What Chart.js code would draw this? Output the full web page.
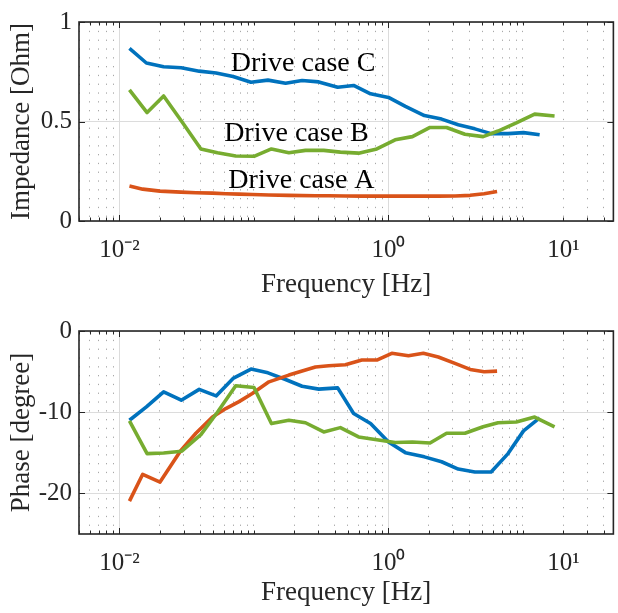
<!DOCTYPE html>
<html>
<head>
<meta charset="utf-8">
<script src="https://cdn.jsdelivr.net/npm/chart.js@4"></script>
<style>
  html, body { margin: 0; padding: 0; background: #fff; }
  #wrap { position: relative; width: 618px; height: 613px; }
  canvas { position: absolute; left: 0; }
  #top { top: 0; width: 618px; height: 305px; }
  #bot { top: 305px; width: 618px; height: 308px; }
</style>
</head>
<body>
<div id="wrap">
  <canvas id="top" width="618" height="305"></canvas>
  <canvas id="bot" width="618" height="308"></canvas>
</div>
<script>
// Drive case A (orange)
const freqA = [0.01186, 0.01488, 0.02002, 0.02864, 0.0370, 0.04911, 0.0617, 0.07743, 0.09714, 0.1292, 0.1816, 0.2864,
  0.3594, 0.4779, 0.6341, 0.8189, 1.058, 1.407, 1.816, 2.346, 3.120, 4.050, 5.141, 6.418];
const impA = [0.176, 0.160, 0.150, 0.145, 0.142, 0.140, 0.137, 0.135, 0.133, 0.131, 0.129, 0.127,
  0.127, 0.126, 0.125, 0.125, 0.125, 0.125, 0.125, 0.125, 0.126, 0.129, 0.137, 0.148];
const phaseA = [-20.95, -17.65, -18.6, -14.7, -12.6, -10.6, -9.55, -8.7, -7.7, -6.26, -5.43, -4.44,
  -4.28, -4.15, -3.58, -3.58, -2.75, -3.05, -2.75, -3.2, -3.99, -4.73, -5.02, -4.94];

// Drive case B (green)
const freqB = [0.01186, 0.01604, 0.02129, 0.02904, 0.04029, 0.05348, 0.07318, 0.1, 0.1348, 0.1816, 0.2415, 0.3300,
  0.4387, 0.5995, 0.8189, 1.121, 1.506, 2.036, 2.703, 3.700, 5.054, 6.528, 8.920, 12.21, 17.17];
const impB = [0.659, 0.545, 0.628, 0.50, 0.362, 0.343, 0.327, 0.325, 0.362, 0.343, 0.355, 0.355,
  0.346, 0.341, 0.362, 0.408, 0.424, 0.470, 0.470, 0.436, 0.424, 0.452, 0.493, 0.537, 0.528];
const phaseB = [-11.07, -15.1, -15.02, -14.8, -12.76, -10.0, -6.75, -6.95, -11.4, -10.99, -11.3, -12.43,
  -11.9, -13.05, -13.4, -13.74, -13.67, -13.8, -12.6, -12.6, -11.8, -11.3, -11.2, -10.6, -11.8];

// Drive case C (blue)
const freqC = [0.01186, 0.01585, 0.02129, 0.02879, 0.03914, 0.05229, 0.06989, 0.09501, 0.1270, 0.1717, 0.2279, 0.3030,
  0.4190, 0.5505, 0.7356, 1.0, 1.336, 1.848, 2.482, 3.300, 4.387, 5.794, 7.743, 10.09, 13.30];
const impC = [0.867, 0.794, 0.775, 0.770, 0.753, 0.744, 0.726, 0.697, 0.708, 0.692, 0.706, 0.699,
  0.672, 0.681, 0.639, 0.621, 0.576, 0.530, 0.512, 0.484, 0.463, 0.439, 0.439, 0.444, 0.433];
const phaseC = [-10.99, -9.35, -7.49, -8.52, -7.19, -7.99, -5.84, -4.69, -5.15, -5.97, -6.8, -7.16,
  -7.0, -10.16, -11.4, -13.67, -14.98, -15.5, -16.1, -17.0, -17.36, -17.36, -15.1, -12.3, -10.7];

const caseNames = ['Drive case A', 'Drive case B', 'Drive case C'];
const xLabelValues = [0.01, 1, 20];
const xLabelTexts = ['10\u207B\u00B2', '10\u2070', '10\u00B9'];
const xGridMajor = [0.01, 1];
const impTicks = [0, 0.5, 1];
const phaseTicks = [-20, -10, 0];

// where the case names sit in the top panel (frequency, impedance at baseline)
const labelFreq = [0.0645, 0.06, 0.0672];
const labelImp = [0.167, 0.403, 0.753];

const FONT = "'Liberation Serif', 'Times New Roman', serif";
const AXIS = '#262626';
const colA = '#D95319', colB = '#77AC30', colC = '#0072BD';
Chart.defaults.font.family = FONT;
Chart.defaults.color = AXIS;

function near(v, list) {
  return list.some(u => Math.abs(u - v) / Math.abs(u) < 1e-6);
}

function logTicks(scale) {
  const ticks = [];
  for (let k = -3; k <= 2; k++) {
    for (let m = 1; m <= 9; m++) {
      const v = m * Math.pow(10, k);
      if (v >= scale.min && v <= scale.max) ticks.push({ value: v });
    }
  }
  scale.ticks = ticks;
}

function xScale(h) {
  return {
    type: 'logarithmic',
    min: 0.005,
    max: 47,
    afterBuildTicks: logTicks,
    afterFit: s => { s.height = h; },
    grid: {
      drawTicks: false,
      color: c => (c.tick && near(c.tick.value, xGridMajor)) ? '#dcdcdc' : '#a8a8a8',
      lineWidth: 1
    },
    border: {
      display: false,
      dash: c => (c.tick && !near(c.tick.value, xGridMajor)) ? [1.3, 7.5] : []
    },
    ticks: {
      autoSkip: false,
      maxRotation: 0,
      padding: 14,
      font: { size: 25 },
      color: AXIS,
      callback: v => {
        const i = xLabelValues.findIndex(u => Math.abs(u - v) / u < 1e-6);
        return i >= 0 ? xLabelTexts[i] : '';
      }
    },
    title: { display: true, text: 'Frequency [Hz]', font: { size: 27 }, color: AXIS, padding: { top: 0, bottom: 4 } }
  };
}

function yScale(min, max, tickVals, title) {
  return {
    min: min,
    max: max,
    afterBuildTicks: s => { s.ticks = tickVals.map(v => ({ value: v })); },
    afterFit: s => { s.width = 79; },
    grid: { drawTicks: false, color: '#dcdcdc', lineWidth: 1 },
    border: { display: false },
    ticks: { padding: 7, font: { size: 25 }, color: AXIS, callback: v => String(v) },
    title: { display: true, text: title, font: { size: 27 }, color: AXIS, padding: { top: 6, bottom: 0 } }
  };
}

// MATLAB-like box with inward ticks, plus the case names
const frame = {
  id: 'frame',
  afterDatasetsDraw(chart, args, opts) {
    const { ctx, chartArea: a } = chart;
    const x = chart.scales.x, y = chart.scales.y;
    ctx.save();
    ctx.strokeStyle = AXIS;
    ctx.lineWidth = 1;
    ctx.beginPath();
    x.ticks.forEach(t => {
      const px = Math.round(x.getPixelForValue(t.value)) + 0.5;
      const len = near(t.value, xGridMajor) ? 6 : 3.5;
      ctx.moveTo(px, a.bottom); ctx.lineTo(px, a.bottom - len);
      ctx.moveTo(px, a.top); ctx.lineTo(px, a.top + len);
    });
    y.ticks.forEach(t => {
      const py = Math.round(y.getPixelForValue(t.value)) + 0.5;
      ctx.moveTo(a.left, py); ctx.lineTo(a.left + 6, py);
      ctx.moveTo(a.right, py); ctx.lineTo(a.right - 6, py);
    });
    ctx.stroke();
    ctx.lineWidth = 1.6;
    ctx.strokeRect(a.left, a.top, a.right - a.left, a.bottom - a.top);

    const labels = (opts && opts.labels) || [];
    ctx.font = '28px ' + FONT;
    ctx.fillStyle = '#000';
    ctx.textAlign = 'left';
    ctx.textBaseline = 'alphabetic';
    labels.forEach(l => {
      ctx.fillText(l.text, x.getPixelForValue(l.x), y.getPixelForValue(l.y));
    });
    ctx.restore();
  }
};

function series(name, freqs, vals, color) {
  return {
    label: name,
    data: freqs.map((f, i) => ({ x: f, y: vals[i] })),
    borderColor: color,
    borderWidth: 3.6,
    borderJoinStyle: 'round',
    pointRadius: 0,
    tension: 0,
    fill: false
  };
}

function makeChart(id, xh, padTop, datasets, yOpts, labels) {
  return new Chart(document.getElementById(id), {
    type: 'line',
    data: { datasets: datasets },
    options: {
      responsive: false,
      animation: false,
      events: [],
      layout: { padding: { top: padTop, right: 2, left: 0, bottom: 0 } },
      scales: { x: xScale(xh), y: yOpts },
      plugins: {
        legend: { display: false },
        tooltip: { enabled: false },
        frame: { labels: labels }
      }
    },
    plugins: [frame]
  });
}

const caseLabels = caseNames.map((n, i) => ({ text: n, x: labelFreq[i], y: labelImp[i] }));

// green drawn on top, then orange, then blue
makeChart('top', 84, 16, [
  series(caseNames[1], freqB, impB, colB),
  series(caseNames[0], freqA, impA, colA),
  series(caseNames[2], freqC, impC, colC)
], yScale(0, 1, impTicks, 'Impedance [Ohm]'), caseLabels);

makeChart('bot', 79, 26, [
  series(caseNames[1], freqB, phaseB, colB),
  series(caseNames[0], freqA, phaseA, colA),
  series(caseNames[2], freqC, phaseC, colC)
], yScale(-25, 0, phaseTicks, 'Phase [degree]'), []);
</script>
</body>
</html>
